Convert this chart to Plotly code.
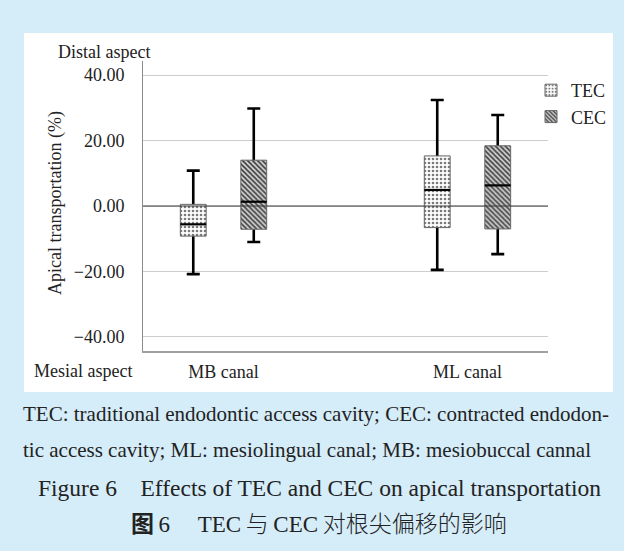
import numpy as np
import plotly.graph_objects as go

# ---------------- data ----------------
categories = ["MB canal", "ML canal"]
series_names = ["TEC", "CEC"]

tec_lower = [-20.8, -19.5]
tec_q1 = [-9.2, -6.6]
tec_median = [-5.6, 4.9]
tec_q3 = [0.5, 15.3]
tec_upper = [10.8, 32.4]

cec_lower = [-11.0, -14.7]
cec_q1 = [-7.1, -7.0]
cec_median = [1.3, 6.3]
cec_q3 = [14.0, 18.4]
cec_upper = [29.8, 27.8]

y_ticks = [-40, -20, 0, 20, 40]

caption_lines = [
    "TEC: traditional endodontic access cavity; CEC: contracted endodon-",
    "tic access cavity; ML: mesiolingual canal; MB: mesiobuccal cannal",
    "Figure 6\u2003Effects of TEC and CEC on apical transportation",
    "<b>图</b>\u20096\u2003\u2009TEC\u2009与\u2009CEC\u2009对根尖偏移的影响",
]

# ---------------- geometry / style ----------------
W, H = 624, 551
PL, PR, PT, PB = 143, 548, 61, 351  # plot area in pixels
SERIF = "Liberation Serif, Times New Roman, serif"
CJK = "Liberation Serif, Noto Sans CJK SC, serif"
TXT = "#222222"
BG = "#d5ecf9"


def px_x(px):
    return (px - PL) / (PR - PL)


def px_y(py):
    return (PB - py) / (PB - PT)


x_range = [-0.33, 1.33]
offset = 0.124
box_w = 0.106
base_pos = np.arange(len(categories), dtype=float)

series = [
    dict(name="TEC", lower=tec_lower, q1=tec_q1, med=tec_median, q3=tec_q3, upper=tec_upper,
         pos=base_pos - offset,
         pattern=dict(shape=".", fgcolor="#7a7a7a", bgcolor="#ffffff", size=4, solidity=0.35,
                      fillmode="replace")),
    dict(name="CEC", lower=cec_lower, q1=cec_q1, med=cec_median, q3=cec_q3, upper=cec_upper,
         pos=base_pos + offset,
         pattern=dict(shape="\\", fgcolor="#3c3c3c", bgcolor="#d4d4d4", size=3.5, solidity=0.45,
                      fillmode="replace")),
]

fig = go.Figure()

# whiskers (drawn first, covered by the box bodies)
for s in series:
    lo = np.array(s["lower"])
    up = np.array(s["upper"])
    fig.add_trace(go.Bar(
        x=s["pos"], base=lo, y=np.zeros_like(lo), width=box_w,
        marker=dict(color="rgba(0,0,0,0)", line=dict(width=0)),
        error_y=dict(type="data", symmetric=False, array=up - lo, arrayminus=np.zeros_like(lo),
                     color="black", thickness=2.6, width=6.5),
        showlegend=False, hoverinfo="skip",
    ))

# box bodies
for s in series:
    q1 = np.array(s["q1"])
    q3 = np.array(s["q3"])
    fig.add_trace(go.Bar(
        x=s["pos"], base=q1, y=q3 - q1, width=box_w, name=s["name"],
        marker=dict(color=s["pattern"]["bgcolor"], pattern=s["pattern"],
                    line=dict(color="#666666", width=1)),
        hoverinfo="skip",
    ))

# medians
for s in series:
    fig.add_trace(go.Scatter(
        x=s["pos"], y=s["med"], mode="markers",
        marker=dict(symbol="line-ew", size=18.5, line=dict(color="black", width=2.2)),
        showlegend=False, hoverinfo="skip",
    ))

shapes = [
    # white panel
    dict(type="rect", xref="paper", yref="paper", layer="below",
         x0=px_x(24), x1=px_x(613), y0=px_y(392), y1=px_y(33),
         fillcolor="white", line=dict(width=0)),
    # zero line above the boxes
    dict(type="line", xref="paper", yref="y", layer="above",
         x0=0, x1=1, y0=0, y1=0, line=dict(color="#3a3a3a", width=1.2)),
]

annotations = [
    dict(text="Distal aspect", x=px_x(104), y=px_y(52), xref="paper", yref="paper",
         xanchor="center", yanchor="middle", showarrow=False,
         font=dict(family=SERIF, size=18, color=TXT)),
    dict(text="Mesial aspect", x=px_x(83), y=px_y(371), xref="paper", yref="paper",
         xanchor="center", yanchor="middle", showarrow=False,
         font=dict(family=SERIF, size=18, color=TXT)),
    dict(text="Apical transportation (%)", x=px_x(55), y=px_y(203), xref="paper", yref="paper",
         xanchor="center", yanchor="middle", textangle=-90, showarrow=False,
         font=dict(family=SERIF, size=18, color=TXT)),
    dict(text=caption_lines[0], x=px_x(21), y=px_y(414), xref="paper", yref="paper",
         xanchor="left", yanchor="middle", showarrow=False,
         font=dict(family=SERIF, size=21, color=TXT)),
    dict(text=caption_lines[1], x=px_x(21), y=px_y(450), xref="paper", yref="paper",
         xanchor="left", yanchor="middle", showarrow=False,
         font=dict(family=SERIF, size=21, color=TXT)),
    dict(text=caption_lines[2], x=px_x(319), y=px_y(488), xref="paper", yref="paper",
         xanchor="center", yanchor="middle", showarrow=False,
         font=dict(family=SERIF, size=23.5, color=TXT)),
    dict(text=caption_lines[3], x=px_x(319), y=px_y(524), xref="paper", yref="paper",
         xanchor="center", yanchor="middle", showarrow=False,
         font=dict(family=CJK, size=23, color=TXT, weight=300)),
]

fig.update_layout(
    template="none",
    width=W, height=H,
    margin=dict(l=PL, r=W - PR, t=PT, b=H - PB, pad=0),
    paper_bgcolor=BG, plot_bgcolor="white",
    barmode="overlay",
    hovermode=False,
    showlegend=True,
    legend=dict(x=px_x(531), y=px_y(72), xanchor="left", yanchor="top",
                bgcolor="rgba(0,0,0,0)", borderwidth=0,
                font=dict(family=SERIF, size=18, color=TXT)),
    xaxis=dict(range=x_range, tickvals=list(base_pos), ticktext=categories,
               showgrid=False, zeroline=False, showline=True, linecolor="#a0a0a0",
               linewidth=2, ticks="", ticklabelstandoff=3,
               tickfont=dict(family=SERIF, size=18, color=TXT)),
    yaxis=dict(range=[-44.3, 44.3], tickvals=y_ticks, tickformat=".2f",
               showgrid=True, gridcolor="#cdcdcd", gridwidth=1, zeroline=False,
               showline=True, linecolor="#8c8c8c", linewidth=1, ticks="",
               ticklabelstandoff=14,
               tickfont=dict(family=SERIF, size=18, color=TXT)),
    shapes=shapes,
    annotations=annotations,
)

fig.write_html("out.html")
